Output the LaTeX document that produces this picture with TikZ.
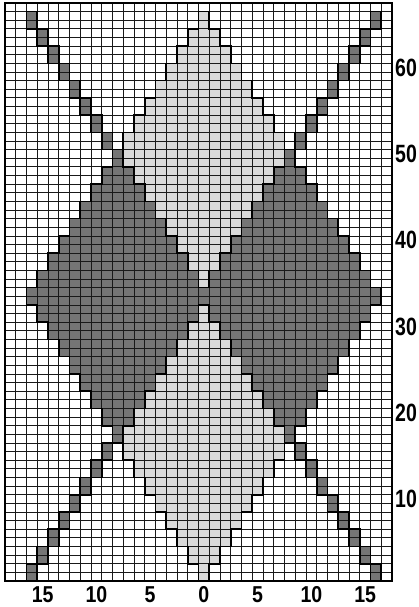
\documentclass[tikz,border=0pt]{standalone}
\usepackage{fontspec}
\setmainfont{Liberation Sans}
\definecolor{darkc}{gray}{0.46}
\definecolor{lightc}{gray}{0.85}
\newcount\ga \newcount\gb \newcount\gt
\def\gettype#1#2{%
  \ga=\numexpr 2*(#1)+(#2)\relax
  \gb=\numexpr 2*(#1)-(#2)\relax
  \gt=0
  \ifnum #1>1 \ifnum #1<35
    \ifnum\ga=68 \gt=1 \fi
    \ifnum\ga=69 \gt=1 \fi
    \ifnum\gb=3 \gt=1 \fi
    \ifnum\gb=4 \gt=1 \fi
  \fi\fi
  \ifnum\gt=0
    \ifnum\ga>35 \ifnum\ga<68
      \ifnum\gb>-30 \ifnum\gb<3 \gt=1 \fi\fi
      \ifnum\gb>4 \ifnum\gb<37 \gt=2 \fi\fi
    \fi\fi
    \ifnum\ga>69 \ifnum\ga<102
      \ifnum\gb>4 \ifnum\gb<37 \gt=1 \fi\fi
      \ifnum\gb>-30 \ifnum\gb<3 \gt=2 \fi\fi
    \fi\fi
  \fi
}
\tikzset{
  gridline/.style={line width=0.8pt, black!90},
  bound/.style={line width=1.6pt, black, line cap=rect},
  frame/.style={line width=1.8pt, black},
  lab/.style={font=\fontsize{23}{23}\selectfont\bfseries, inner sep=0pt},
}
\begin{document}
\begin{tikzpicture}[x=10.75pt,y=8.627pt]
\useasboundingbox (-5pt,-26pt) rectangle (413pt,581pt);
% cell fills
\foreach \c in {0,...,35}{
  \foreach \r in {0,...,66}{
    \gettype{\c}{\r}%
    \ifnum\gt=1 \fill[darkc] (\c,\r) rectangle ++(1,1);\fi
    \ifnum\gt=2 \fill[lightc] (\c,\r) rectangle ++(1,1);\fi
  }
}
% thin grid
\foreach \c in {1,...,35}{ \draw[gridline] (\c,0) -- (\c,67); }
\foreach \r in {1,...,66}{ \draw[gridline] (0,\r) -- (36,\r); }
% thick region boundaries
\foreach \c in {0,...,35}{
  \foreach \r in {0,...,66}{
    \gettype{\c}{\r}\edef\tA{\the\gt}%
    \ifnum\c<35
      \edef\cn{\the\numexpr\c+1\relax}%
      \gettype{\cn}{\r}%
      \ifnum\gt=\tA\relax\else \draw[bound] (\cn,\r) -- ++(0,1);\fi
    \fi
    \ifnum\r<66
      \edef\rn{\the\numexpr\r+1\relax}%
      \gettype{\c}{\rn}%
      \ifnum\gt=\tA\relax\else \draw[bound] (\c,\rn) -- ++(1,0);\fi
    \fi
  }
}
% outer frame
\draw[frame] (0,0) rectangle (36,67);
% bottom labels
\foreach \c/\t in {3/15,8/10,13/5,18/0,23/5,28/10,33/15}{
  \path (\c+0.5,0) ++(0,-13.6pt) node[lab] (bl\c) {\scalebox{0.85}[1]{\t}};
}
% right labels
\foreach \n in {10,20,30,40,50,60}{
  \path (36,\n-0.5) ++(3pt,0) node[lab, anchor=west, font=\fontsize{25}{25}\selectfont\bfseries] (rl\n) {\scalebox{0.78}[1]{\n}};
}
\end{tikzpicture}
\end{document}
